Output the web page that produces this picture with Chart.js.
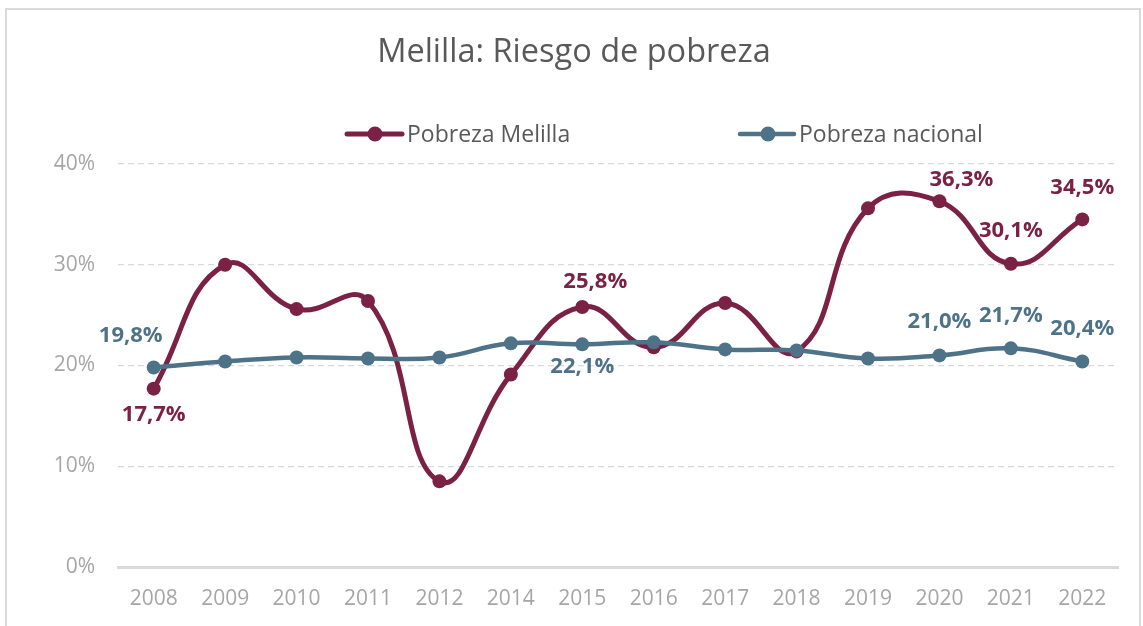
<!DOCTYPE html>
<html>
<head>
<meta charset="utf-8">
<script src="https://cdn.jsdelivr.net/npm/chart.js@4.4.0/dist/chart.umd.min.js"></script>
<style>
  html, body { margin: 0; padding: 0; background: #ffffff; }
  #wrap { position: relative; width: 1143px; height: 626px; overflow: hidden; }
  #frame { position: absolute; left: 5px; top: 8px; width: 1136px; height: 640px; border: 2px solid #d9d9d9; box-sizing: border-box; pointer-events: none; }
  canvas { position: absolute; left: 0; top: 0; }
</style>
</head>
<body>
<div id="wrap">
  <canvas id="c" width="1143" height="626"></canvas>
  <div id="frame"></div>
</div>
<script>
// ---- data ----
const categories = ['2008','2009','2010','2011','2012','2014','2015','2016','2017','2018','2019','2020','2021','2022'];
const pobrezaMelilla = [17.7, 30.0, 25.6, 26.4, 8.5, 19.1, 25.8, 21.8, 26.2, 21.4, 35.6, 36.3, 30.1, 34.5];
const pobrezaNacional = [19.8, 20.4, 20.8, 20.7, 20.8, 22.2, 22.1, 22.3, 21.6, 21.5, 20.7, 21.0, 21.7, 20.4];
const seriesNames = ['Pobreza Melilla', 'Pobreza nacional'];
const yTicks = [0, 10, 20, 30, 40];
const titleText = 'Melilla: Riesgo de pobreza';
// indices of points carrying a value label
const melillaLabelIdx = [0, 6, 11, 12, 13];
const nacionalLabelIdx = [0, 6, 11, 12, 13];

// ---- styles / placement (not data) ----
const COL_M = '#7b2145';
const COL_N = '#4e7389';
const FONT = '"Open Sans", "Liberation Sans", sans-serif';
const melillaLabelOffsets = { 0: [0, 26], 6: [13, -25], 11: [22, -22], 12: [0, -33], 13: [0, -32] };
const nacionalLabelOffsets = { 0: [-23, -32], 6: [0, 22], 11: [0, -34], 12: [0, -33], 13: [0, -33] };

function fmt(v) { return v.toFixed(1).replace('.', ',') + '%'; }

const decorPlugin = {
  id: 'decor',
  afterDatasetsDraw(chart) {
    const ctx = chart.ctx;
    const sets = [
      { di: 0, idx: melillaLabelIdx, off: melillaLabelOffsets, col: COL_M, vals: pobrezaMelilla },
      { di: 1, idx: nacionalLabelIdx, off: nacionalLabelOffsets, col: COL_N, vals: pobrezaNacional }
    ];
    ctx.save();
    ctx.font = 'bold 22px ' + FONT;
    ctx.textAlign = 'center';
    ctx.textBaseline = 'middle';
    sets.forEach(s => {
      const meta = chart.getDatasetMeta(s.di);
      ctx.fillStyle = s.col;
      s.idx.forEach(i => {
        const p = meta.data[i];
        const o = s.off[i] || [0, -30];
        ctx.fillText(fmt(s.vals[i]), p.x + o[0], p.y + o[1]);
      });
    });
    ctx.restore();
  },
  afterDraw(chart) {
    const ctx = chart.ctx;
    ctx.save();
    // title
    ctx.fillStyle = '#595959';
    ctx.font = '32.5px ' + FONT;
    ctx.textAlign = 'center';
    ctx.textBaseline = 'middle';
    ctx.fillText(titleText, 574, 53);
    // legend
    const items = [
      { x0: 347, x1: 402, cx: 375, tx: 407, col: COL_M, lw: 5, name: seriesNames[0] },
      { x0: 740, x1: 794, cx: 768, tx: 799, col: COL_N, lw: 4.5, name: seriesNames[1] }
    ];
    const ly = 134;
    items.forEach(it => {
      ctx.strokeStyle = it.col;
      ctx.lineWidth = it.lw;
      ctx.lineCap = 'round';
      ctx.beginPath();
      ctx.moveTo(it.x0, ly);
      ctx.lineTo(it.x1, ly);
      ctx.stroke();
      ctx.fillStyle = it.col;
      ctx.beginPath();
      ctx.arc(it.cx, ly, 7.5, 0, Math.PI * 2);
      ctx.fill();
      ctx.fillStyle = '#595959';
      ctx.font = '23px ' + FONT;
      ctx.textAlign = 'left';
      ctx.textBaseline = 'middle';
      ctx.fillText(it.name, it.tx, ly + 1);
    });
    ctx.restore();
  }
};

new Chart(document.getElementById('c'), {
  type: 'line',
  data: {
    labels: categories,
    datasets: [
      {
        label: seriesNames[0],
        data: pobrezaMelilla,
        borderColor: COL_M,
        backgroundColor: COL_M,
        borderWidth: 5,
        pointRadius: 7,
        pointBorderWidth: 0,
        pointBackgroundColor: COL_M,
        tension: 0.45,
        clip: false,
        order: 1
      },
      {
        label: seriesNames[1],
        data: pobrezaNacional,
        borderColor: COL_N,
        backgroundColor: COL_N,
        borderWidth: 4.5,
        pointRadius: 7,
        pointBorderWidth: 0,
        pointBackgroundColor: COL_N,
        tension: 0.45,
        clip: false,
        order: 0
      }
    ]
  },
  options: {
    responsive: false,
    animation: false,
    devicePixelRatio: 1,
    layout: { padding: { top: 164, left: 0, right: 25, bottom: 0 } },
    plugins: {
      legend: { display: false },
      title: { display: false },
      tooltip: { enabled: false }
    },
    scales: {
      x: {
        offset: true,
        grid: { display: false, drawTicks: false },
        border: { display: true, color: '#d9d9d9', width: 3 },
        ticks: { color: '#a6a6a6', font: { family: FONT, size: 21 }, padding: 19, maxRotation: 0, autoSkip: false },
        afterFit(scale) { scale.height = 59; }
      },
      y: {
        min: 0,
        max: 40,
        afterBuildTicks(scale) { scale.ticks = yTicks.map(v => ({ value: v })); },
        grid: { color: '#d9d9d9', lineWidth: 1.3, drawTicks: false },
        border: { display: false, dash: [6, 4] },
        ticks: { color: '#a6a6a6', font: { family: FONT, size: 21 }, padding: 23, callback: v => v + '%' },
        afterFit(scale) { scale.width = 118; }
      }
    }
  },
  plugins: [decorPlugin]
});
</script>
</body>
</html>
